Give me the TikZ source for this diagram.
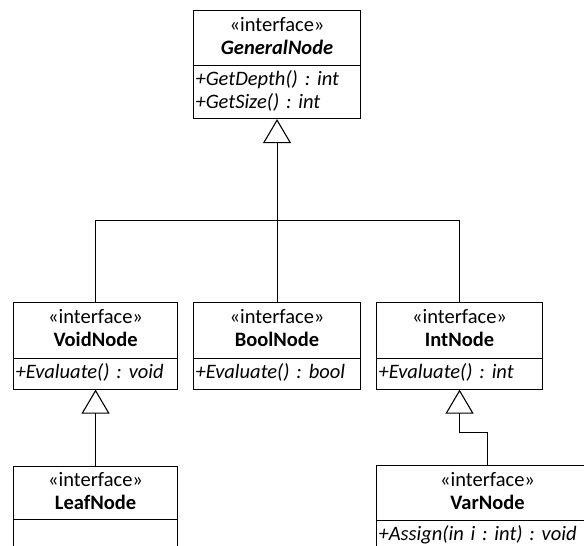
\documentclass[tikz,border=0pt]{standalone}
\usepackage{fontspec}
\setmainfont{Carlito}
\frenchspacing
\usetikzlibrary{arrows.meta}
% one text line of the class boxes: fixed height and depth
\newcommand\umlline{\rule[-6.5pt]{0pt}{23pt}}
\begin{document}
\begin{tikzpicture}[x=1pt,y=-1pt,
  umlfont/.style={font=\fontsize{20.5}{23}\selectfont},
  head/.style={draw, line width=1.1pt, anchor=north west, inner sep=0pt,
    align=center, umlfont},
  body/.style={draw, line width=1.1pt, anchor=north west, inner xsep=2pt,
    inner ysep=0pt, align=left, font=\fontsize{20.5}{23}\selectfont\itshape},
  conn/.style={line width=0.9pt},
  gen/.style={conn, -{Triangle[open, length=24pt, width=28pt, line width=1.1pt]}}]
\useasboundingbox (0,0) rectangle (584,546);
\clip (0,0) rectangle (584,546);

% root interface
\node[head, minimum width=167pt, minimum height=55pt] (gnH) at (193,10)
  {\umlline«interface»\\\umlline\textbf{\textit{GeneralNode}}};
\node[body, text width=163pt, minimum height=53pt] (gnB) at (193,65)
  {\umlline+GetDepth() : int\\\umlline+GetSize() : int};

% second level
\node[head, minimum width=164pt, minimum height=56pt] (vnH) at (13,301.5)
  {\umlline«interface»\\\umlline\textbf{VoidNode}};
\node[body, text width=160pt, minimum height=31pt] (vnB) at (13,357.5)
  {\umlline+Evaluate() : void};

\node[head, minimum width=167pt, minimum height=56pt] (bnH) at (193,301.5)
  {\umlline«interface»\\\umlline\textbf{BoolNode}};
\node[body, text width=163pt, minimum height=31pt] (bnB) at (193,357.5)
  {\umlline+Evaluate() : bool};

\node[head, minimum width=166pt, minimum height=56pt] (inH) at (376,301.5)
  {\umlline«interface»\\\umlline\textbf{IntNode}};
\node[body, text width=162pt, minimum height=31pt] (inB) at (376,357.5)
  {\umlline+Evaluate() : int};

% third level
\node[head, minimum width=164pt, minimum height=53pt] (lnH) at (13,466)
  {\umlline«interface»\\\umlline\textbf{LeafNode}};
\node[body, text width=160pt, minimum height=31pt] (lnB) at (13,519) {};

\node[head, minimum width=222pt, minimum height=55pt] (vrH) at (376,465)
  {\umlline«interface»\\\umlline\textbf{VarNode}};
\node[body, text width=218pt, minimum height=30pt] (vrB) at (376,520)
  {\umlline+Assign(in i : int) : void};

% generalisations
\coordinate (merge) at (276.5,220.5);
\draw[gen] (bnH.north) -- (gnB.south);
\draw[conn] (vnH.north) |- (merge);
\draw[conn] (inH.north) |- (merge);
\draw[gen] (lnH.north) -- (vnB.south);
\draw[gen] (vrH.north) -- ++(0,-33) -| (inB.south);
\end{tikzpicture}
\end{document}
